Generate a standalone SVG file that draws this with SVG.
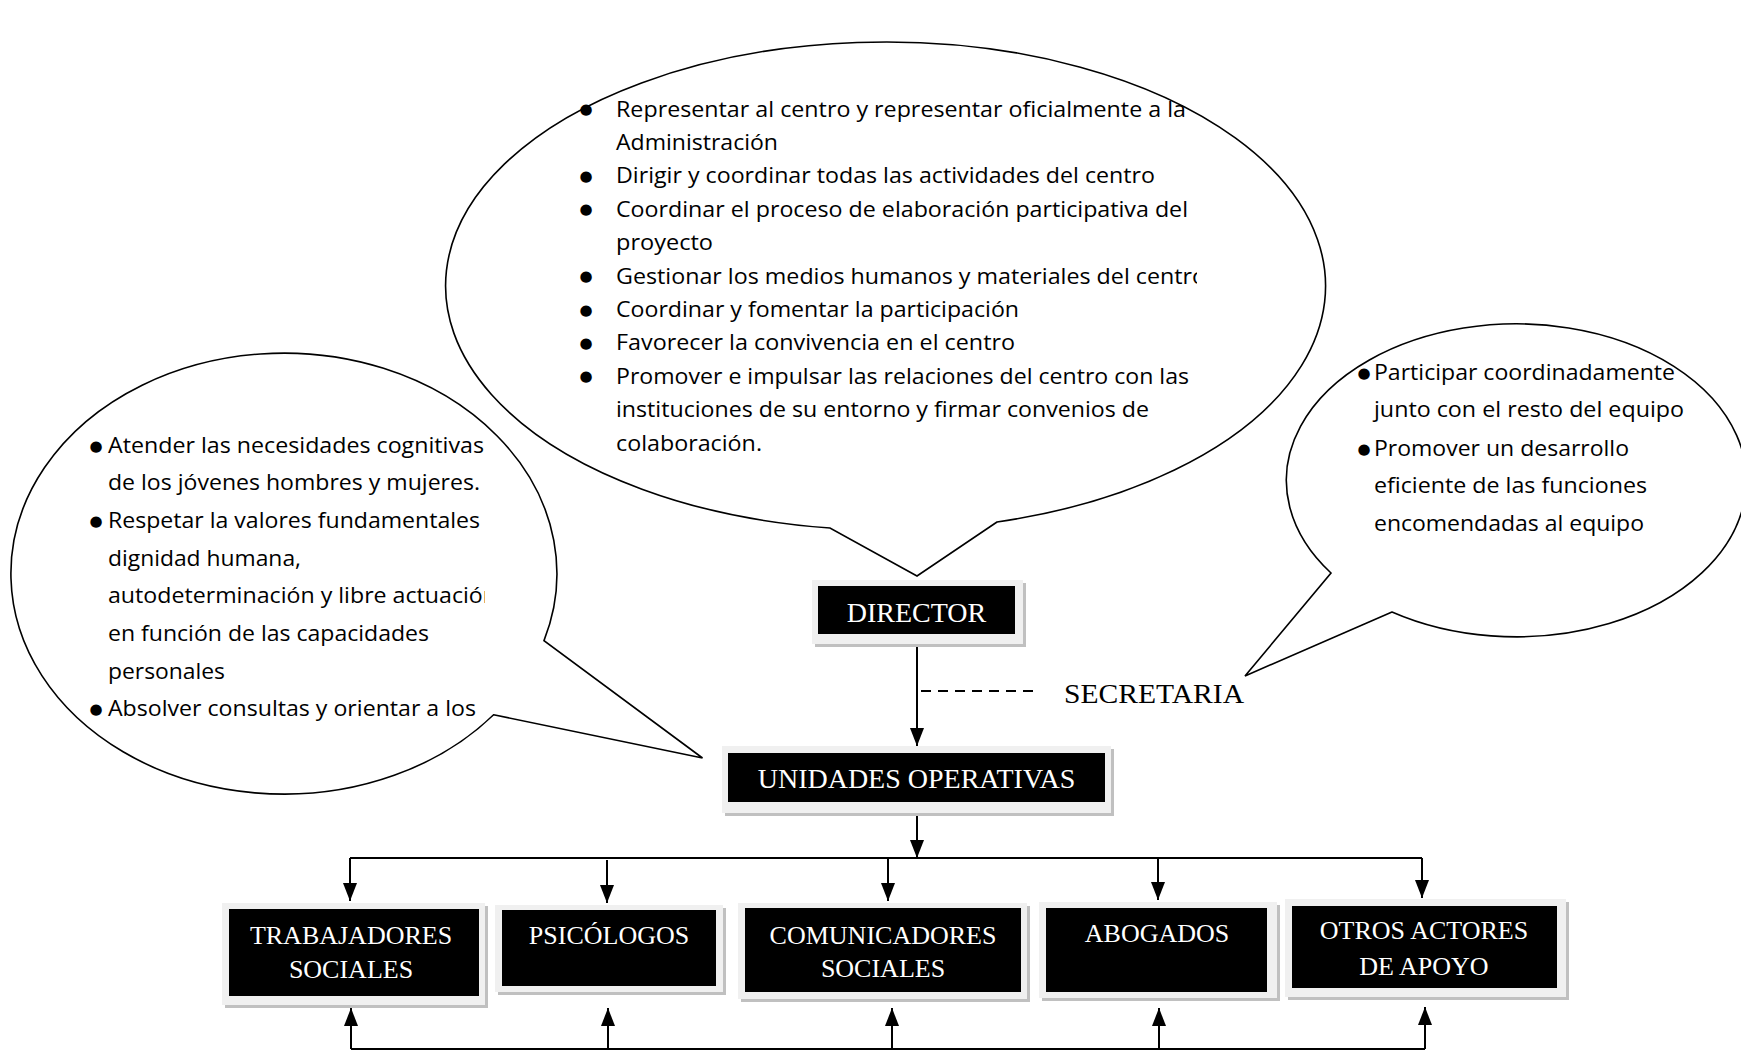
<svg xmlns="http://www.w3.org/2000/svg" width="1741" height="1054" viewBox="0 0 1741 1054">
<defs>
<style>
.bub{fill:#fff;stroke:#000;stroke-width:1.6}
.bt{font-family:"Open Sans","Noto Sans",sans-serif;font-size:22px;fill:#000}
.bl{font-family:"DejaVu Sans",sans-serif;font-size:15px;fill:#000;text-anchor:middle}
.bx{font-family:"Liberation Serif","Times New Roman",serif;fill:#fff;text-anchor:middle}
.b28{font-size:28px}
.b26{font-size:26px}
.frame{fill:#f0f0f0}
.shadow{fill:#c0c0c0}
.inner{fill:#000}
.ln{stroke:#000;stroke-width:2;fill:none}
.sec{font-family:"Liberation Serif","Times New Roman",serif;font-size:28px;fill:#000}
</style>
<marker id="ah" markerUnits="userSpaceOnUse" markerWidth="18" markerHeight="14" refX="18" refY="7" orient="auto" viewBox="0 0 18 14"><path d="M0,0 L18,7 L0,14 Z" fill="#000"/></marker>
<clipPath id="clipTop"><rect x="0" y="0" width="1197" height="600"/></clipPath>
<clipPath id="clipLeft"><rect x="0" y="300" width="485" height="500"/></clipPath>
</defs>
<rect width="1741" height="1054" fill="#fff"/>

<g id="bubble-director">
<path class="bub" d="M997,522 L917,576 L830,528 A440 244 0 1 1 997,522 Z"/>
<g clip-path="url(#clipTop)">
<text class="bl" x="586" y="114">●</text>
<text class="bt" x="616" y="116.5" textLength="570" lengthAdjust="spacingAndGlyphs">Representar al centro y representar oficialmente a la</text>
<text class="bt" x="616" y="149.9" textLength="162" lengthAdjust="spacingAndGlyphs">Administración</text>
<text class="bl" x="586" y="181">●</text>
<text class="bt" x="616" y="183.3" textLength="539" lengthAdjust="spacingAndGlyphs">Dirigir y coordinar todas las actividades del centro</text>
<text class="bl" x="586" y="214.4">●</text>
<text class="bt" x="616" y="216.7" textLength="572" lengthAdjust="spacingAndGlyphs">Coordinar el proceso de elaboración participativa del</text>
<text class="bt" x="616" y="250.1" textLength="97" lengthAdjust="spacingAndGlyphs">proyecto</text>
<text class="bl" x="586" y="281.2">●</text>
<text class="bt" x="616" y="283.5" textLength="590" lengthAdjust="spacingAndGlyphs">Gestionar los medios humanos y materiales del centro</text>
<text class="bl" x="586" y="314.6">●</text>
<text class="bt" x="616" y="316.9" textLength="403" lengthAdjust="spacingAndGlyphs">Coordinar y fomentar la participación</text>
<text class="bl" x="586" y="348">●</text>
<text class="bt" x="616" y="350.3" textLength="399" lengthAdjust="spacingAndGlyphs">Favorecer la convivencia en el centro</text>
<text class="bl" x="586" y="381.4">●</text>
<text class="bt" x="616" y="383.7" textLength="573" lengthAdjust="spacingAndGlyphs">Promover e impulsar las relaciones del centro con las</text>
<text class="bt" x="616" y="417.1" textLength="533" lengthAdjust="spacingAndGlyphs">instituciones de su entorno y firmar convenios de</text>
<text class="bt" x="616" y="450.5" textLength="146" lengthAdjust="spacingAndGlyphs">colaboración.</text>
</g>
</g>

<g id="bubble-unidades">
<path class="bub" d="M493.6,714.8 L702.5,758 L544,640.6 A273 220.5 0 1 0 493.6,714.8 Z"/>
<g clip-path="url(#clipLeft)">
<text class="bl" x="96" y="450.5">●</text>
<text class="bt" x="108" y="452.5" textLength="376" lengthAdjust="spacingAndGlyphs">Atender las necesidades cognitivas</text>
<text class="bt" x="108" y="490.2" textLength="372" lengthAdjust="spacingAndGlyphs">de los jóvenes hombres y mujeres.</text>
<text class="bl" x="96" y="525.9">●</text>
<text class="bt" x="108" y="527.9" textLength="372" lengthAdjust="spacingAndGlyphs">Respetar la valores fundamentales</text>
<text class="bt" x="108" y="565.6" textLength="193" lengthAdjust="spacingAndGlyphs">dignidad humana,</text>
<text class="bt" x="108" y="603.3" textLength="389" lengthAdjust="spacingAndGlyphs">autodeterminación y libre actuación</text>
<text class="bt" x="108" y="641" textLength="321" lengthAdjust="spacingAndGlyphs">en función de las capacidades</text>
<text class="bt" x="108" y="678.7" textLength="117" lengthAdjust="spacingAndGlyphs">personales</text>
<text class="bl" x="96" y="714.4">●</text>
<text class="bt" x="108" y="716.4" textLength="368" lengthAdjust="spacingAndGlyphs">Absolver consultas y orientar a los</text>
</g>
</g>

<g id="bubble-secretaria">
<path class="bub" d="M1392,612 L1245,676 L1331,573 A230 156.5 0 1 1 1392,612 Z"/>
<text class="bl" x="1364" y="378">●</text>
<text class="bt" x="1374" y="380" textLength="301" lengthAdjust="spacingAndGlyphs">Participar coordinadamente</text>
<text class="bt" x="1374" y="417" textLength="310" lengthAdjust="spacingAndGlyphs">junto con el resto del equipo</text>
<text class="bl" x="1364" y="454">●</text>
<text class="bt" x="1374" y="456" textLength="255" lengthAdjust="spacingAndGlyphs">Promover un desarrollo</text>
<text class="bt" x="1374" y="493" textLength="273" lengthAdjust="spacingAndGlyphs">eficiente de las funciones</text>
<text class="bt" x="1374" y="531" textLength="270" lengthAdjust="spacingAndGlyphs">encomendadas al equipo</text>
</g>

<g id="connectors">
<path class="ln" d="M917,644 V746" marker-end="url(#ah)"/>
<path class="ln" d="M921,691 H1038" stroke-dasharray="10 7"/>
<path class="ln" d="M917,813 V858" marker-end="url(#ah)"/>
<path class="ln" d="M350,858 H1422"/>
<path class="ln" d="M350,858 V901" marker-end="url(#ah)"/>
<path class="ln" d="M607,860 V903" marker-end="url(#ah)"/>
<path class="ln" d="M888,858 V901" marker-end="url(#ah)"/>
<path class="ln" d="M1158,858 V900" marker-end="url(#ah)"/>
<path class="ln" d="M1422,858 V898" marker-end="url(#ah)"/>
<path class="ln" d="M351,1049 H1425"/>
<path class="ln" d="M351,1049 V1008" marker-end="url(#ah)"/>
<path class="ln" d="M608,1049 V1008" marker-end="url(#ah)"/>
<path class="ln" d="M892,1049 V1008" marker-end="url(#ah)"/>
<path class="ln" d="M1159,1049 V1008" marker-end="url(#ah)"/>
<path class="ln" d="M1425,1049 V1007" marker-end="url(#ah)"/>
</g>

<g id="secretaria">
<text class="sec" x="1064" y="703" textLength="180" lengthAdjust="spacingAndGlyphs">SECRETARIA</text>
</g>

<g id="director">
<rect class="shadow" x="815" y="583" width="211" height="64"/>
<rect class="frame" x="812" y="580" width="211" height="64"/>
<rect class="inner" x="818" y="586" width="197" height="48"/>
<text class="bx b28" x="916.5" y="622">DIRECTOR</text>
</g>

<g id="unidades">
<rect class="shadow" x="725" y="749" width="389" height="67"/>
<rect class="frame" x="722" y="746" width="389" height="67"/>
<rect class="inner" x="728" y="753" width="377" height="49"/>
<text class="bx b28" x="916.5" y="788">UNIDADES OPERATIVAS</text>
</g>

<g id="trabajadores">
<rect class="shadow" x="225" y="906" width="263" height="102"/>
<rect class="frame" x="222" y="903" width="263" height="102"/>
<rect class="inner" x="229" y="909" width="250" height="87"/>
<text class="bx b26" x="351" y="944">TRABAJADORES</text>
<text class="bx b26" x="351" y="978">SOCIALES</text>
</g>

<g id="psicologos">
<rect class="shadow" x="498" y="908" width="228" height="87"/>
<rect class="frame" x="495" y="905" width="228" height="87"/>
<rect class="inner" x="502" y="910" width="214" height="76"/>
<text class="bx b26" x="609" y="944">PSICÓLOGOS</text>
</g>

<g id="comunicadores">
<rect class="shadow" x="741" y="906" width="289" height="96"/>
<rect class="frame" x="738" y="903" width="289" height="96"/>
<rect class="inner" x="745" y="908" width="276" height="84"/>
<text class="bx b26" x="883" y="944">COMUNICADORES</text>
<text class="bx b26" x="883" y="977">SOCIALES</text>
</g>

<g id="abogados">
<rect class="shadow" x="1042" y="905" width="238" height="96"/>
<rect class="frame" x="1039" y="902" width="238" height="96"/>
<rect class="inner" x="1046" y="908" width="221" height="84"/>
<text class="bx b26" x="1157" y="942">ABOGADOS</text>
</g>

<g id="otros">
<rect class="shadow" x="1288" y="902" width="281" height="98"/>
<rect class="frame" x="1285" y="899" width="281" height="98"/>
<rect class="inner" x="1292" y="906" width="265" height="82"/>
<text class="bx b26" x="1424" y="939">OTROS ACTORES</text>
<text class="bx b26" x="1424" y="975">DE APOYO</text>
</g>
</svg>
